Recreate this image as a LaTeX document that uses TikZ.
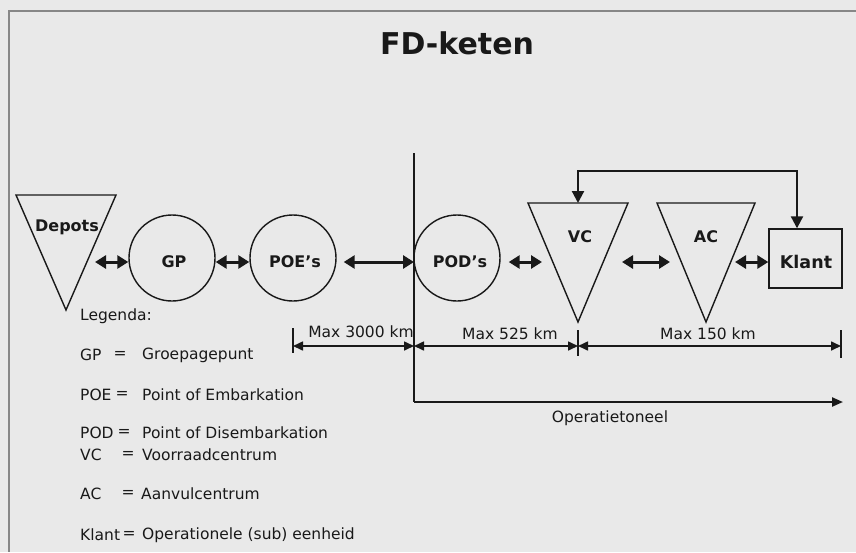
\documentclass[tikz,border=0pt]{standalone}
\usepackage{fontspec}
\setmainfont{DejaVu Sans}
\usetikzlibrary{arrows.meta}
\definecolor{paper}{RGB}{233,233,233}
\definecolor{ink}{RGB}{25,25,25}
\definecolor{framegrey}{RGB}{135,135,135}
\begin{document}
\begin{tikzpicture}[x=1pt,y=-1pt,
  shapeline/.style={draw=ink, line width=1.4pt},
  lbl/.style={text=ink, font=\bfseries\fontsize{16}{19}\selectfont, inner sep=0pt},
  txt/.style={text=ink, font=\fontsize{15.5}{18}\selectfont, inner sep=0pt},
  dbl/.style={draw=ink, line width=3pt, {Triangle[length=11pt,width=13pt]}-{Triangle[length=11pt,width=13pt]}},
  dimline/.style={draw=ink, line width=1.6pt, {Triangle[length=10pt,width=9pt]}-{Triangle[length=10pt,width=9pt]}},
  tick/.style={draw=ink, line width=1.6pt},
  axisline/.style={draw=ink, line width=2.2pt},
  fb/.style={draw=ink, line width=2.2pt, {Triangle[length=12pt,width=12pt]}-{Triangle[length=12pt,width=12pt]}}
]
% background and frame
\fill[paper] (0,0) rectangle (856,552);
\useasboundingbox (0,0) rectangle (856,552);
\draw[framegrey, line width=2pt] (856,11) -- (9,11) -- (9,552);

% title
\node[text=ink, font=\bfseries\fontsize{30}{34}\selectfont, inner sep=0pt] (title) at (457,43) {FD-keten};

% axis
\coordinate (axtop) at (414,153);
\coordinate (axorig) at (414,402);
\coordinate (axend) at (843,402);
\draw[axisline] (axtop) -- (axorig);
\draw[axisline, -{Triangle[length=11pt,width=9pt]}] (axorig) -- (axend);
\node[txt] (opt) at (610,418) {Operatietoneel};

% row of arrows
\coordinate (row) at (0,262);

% Depots triangle
\draw[shapeline] (16,195) -- (116,195) -- (66,310) -- cycle;
\node[lbl] (depots) at (67,227) {Depots};
\coordinate (depR) at (95,262);

% circles
\node[shapeline, circle, minimum size=86pt, inner sep=0pt] (gp) at (172,258) {};
\node[lbl] (gpt) at (174,262) {GP};
\node[shapeline, circle, minimum size=86pt, inner sep=0pt] (poe) at (293,258) {};
\node[lbl] (poet) at (295,262) {POE's};
\node[shapeline, circle, minimum size=86pt, inner sep=0pt] (pod) at (457,258) {};
\node[lbl] (podt) at (460,262) {POD's};

% VC and AC triangles
\draw[shapeline] (528,203) -- (628,203) -- (578,322) -- cycle;
\coordinate (vctop) at (578,203);
\node[lbl] (vct) at (580,237) {VC};
\draw[shapeline] (657,203) -- (755,203) -- (706,322) -- cycle;
\node[lbl] (act) at (706,237) {AC};
\coordinate (vcL) at (542,262);
\coordinate (vcR) at (622,262);
\coordinate (acL) at (670,262);
\coordinate (acR) at (735,262);

% Klant
\node[shapeline, minimum width=73pt, minimum height=59pt, inner sep=0pt] (klant) at (805.5,258.5) {};
\node[lbl, font=\bfseries\fontsize{17.5}{20}\selectfont] (klantt) at (806,262) {Klant};

% double arrows
\draw[dbl] (depR) -- (gp.west |- row);
\draw[dbl] (gp.east |- row) -- (poe.west |- row);
\draw[dbl] ([xshift=7pt]poe.east |- row) -- (axtop |- row);
\draw[dbl] ([xshift=8pt]pod.east |- row) -- (vcL);
\draw[dbl] (vcR) -- (acL);
\draw[dbl] (acR) -- (klant.west |- row);

% feedback loop
\coordinate (fbA) at (578,171);
\coordinate (fbB) at (797,171);
\draw[fb] (vctop) -- (fbA) -- (fbB) -- (fbB |- klant.north);

% dimension lines
\coordinate (d0) at (293,346);
\coordinate (d1) at (414,346);
\coordinate (d2) at (578,346);
\coordinate (d3) at (841,346);
\draw[tick] (293,328) -- (293,353);
\draw[tick] (578,330) -- (578,356);
\draw[tick] (841,330) -- (841,358);
\draw[dimline] (d0) -- (d1);
\draw[dimline] (d1) -- (d2);
\draw[dimline] (d2) -- (d3);
\node[txt] (m3000) at (361,332) {Max 3000 km};
\node[txt] (m525) at (510,334) {Max 525 km};
\node[txt] (m150) at (708,334) {Max 150 km};

% legend
\node[txt, anchor=west] (leg) at (80,316) {Legenda:};
\node[txt, anchor=west] (l1a) at (80,355) {GP};
\node[txt] (l1b) at (120,355) {=};
\node[txt, anchor=west] (l1c) at (142,355) {Groepagepunt};
\node[txt, anchor=west] (l2a) at (80,395) {POE};
\node[txt] (l2b) at (122,395) {=};
\node[txt, anchor=west] (l2c) at (142,395) {Point of Embarkation};
\node[txt, anchor=west] (l3a) at (80,433) {POD};
\node[txt] (l3b) at (124,433) {=};
\node[txt, anchor=west] (l3c) at (142,433) {Point of Disembarkation};
\node[txt, anchor=west] (l4a) at (80,455) {VC};
\node[txt] (l4b) at (128,455) {=};
\node[txt, anchor=west] (l4c) at (142,455) {Voorraadcentrum};
\node[txt, anchor=west] (l5a) at (80,494) {AC};
\node[txt] (l5b) at (128,494) {=};
\node[txt, anchor=west] (l5c) at (141,494) {Aanvulcentrum};
\node[txt, anchor=west] (l6a) at (80,535) {Klant};
\node[txt] (l6b) at (129,535) {=};
\node[txt, anchor=west] (l6c) at (142,535) {Operationele (sub) eenheid};
\end{tikzpicture}
\end{document}
